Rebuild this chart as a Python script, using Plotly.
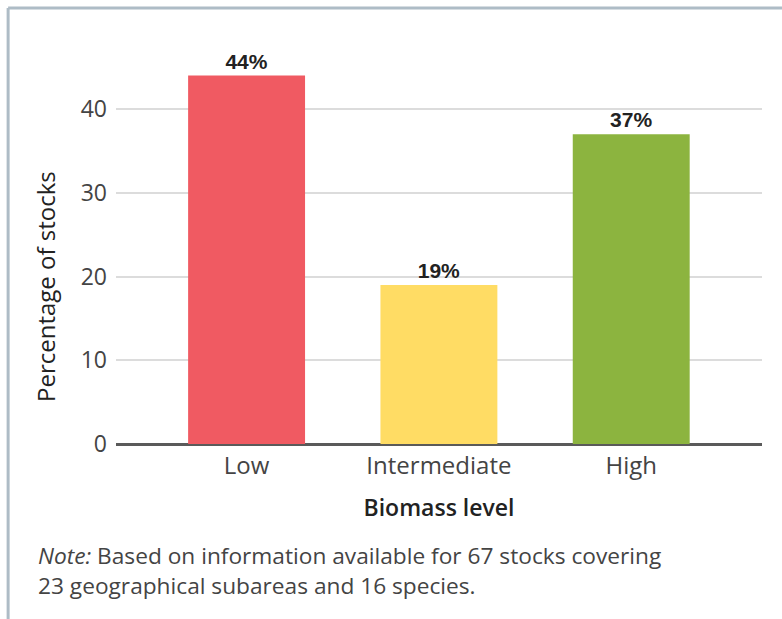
import plotly.graph_objects as go

categories = ["Low", "Intermediate", "High"]
values = [44, 19, 37]
labels = ["44%", "19%", "37%"]
colors = ["#F05A62", "#FFDC64", "#8CB43F"]
y_ticks = [0, 10, 20, 30, 40]

FONT = "Open Sans"

fig = go.Figure()
fig.add_trace(go.Bar(
    x=list(range(len(categories))),
    y=values,
    width=0.608,
    marker=dict(color=colors, line=dict(width=0)),
    text=labels,
    textposition="outside",
    cliponaxis=False,
    textfont=dict(family="Liberation Sans", size=21, color="#222222", weight="bold"),
))

fig.update_layout(
    width=782, height=619,
    margin=dict(l=116, r=20, t=42, b=175),
    paper_bgcolor="white", plot_bgcolor="white",
    showlegend=False,
    font=dict(family=FONT, color="#444444"),
    xaxis=dict(
        range=[-0.679, 2.68],
        tickmode="array",
        tickvals=list(range(len(categories))),
        ticktext=categories,
        tickfont=dict(size=24, color="#444444"),
        showgrid=False, showline=False, zeroline=False,
        ticks="", ticklen=0, ticklabelstandoff=5,
        title=dict(text="Biomass level", font=dict(size=23, color="#222222", weight=600), standoff=19),
        automargin=False,
    ),
    yaxis=dict(
        range=[0, 48],
        tickmode="array",
        tickvals=y_ticks,
        tickfont=dict(size=23, color="#444444"),
        showgrid=True, gridcolor="#DCDCDC", gridwidth=2,
        zeroline=True, zerolinecolor="#5A5A5A", zerolinewidth=2.5,
        showline=False, ticks="", ticklabelstandoff=8,
        automargin=False,
    ),
    shapes=[
        dict(type="line", xref="paper", yref="paper", x0=-0.167, x1=1.05, y0=1.0846, y1=1.0846,
             line=dict(color="#AEBCC6", width=3)),
        dict(type="line", xref="paper", yref="paper", x0=-0.167, x1=-0.167, y0=1.0846, y1=-0.45,
             line=dict(color="#AEBCC6", width=3)),
    ],
    annotations=[
        dict(text="Percentage of stocks", textangle=-90,
             xref="paper", yref="paper", x=(45 - 116) / 646, y=(444 - 287) / 402,
             xanchor="center", yanchor="middle", showarrow=False,
             font=dict(family=FONT, size=24, color="#222222")),
        dict(text="<i>Note:</i> Based on information available for 67 stocks covering<br>"
                  "23 geographical subareas and 16 species.",
             xref="paper", yref="paper", x=(36 - 116) / 646, y=(444 - 570) / 402,
             xanchor="left", yanchor="middle", align="left", showarrow=False,
             font=dict(family=FONT, size=22.7, color="#444444")),
    ],
)

fig.write_html("out.html")
